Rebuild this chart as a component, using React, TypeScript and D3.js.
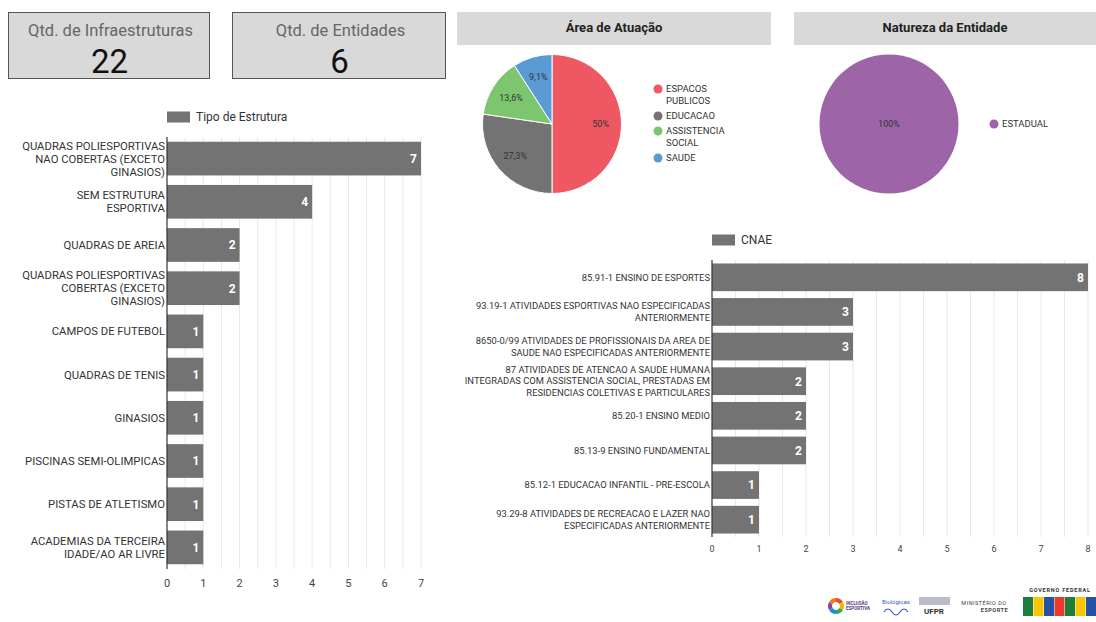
import React, { useEffect, useRef } from 'react';
import * as d3 from 'd3';

// KPI cards
const kpiTitles = ['Qtd. de Infraestruturas', 'Qtd. de Entidades'];
const kpiValues = [22, 6];

// Tipo de Estrutura
const tipoLabels = [
  'QUADRAS POLIESPORTIVAS\nNAO COBERTAS (EXCETO\nGINASIOS)',
  'SEM ESTRUTURA\nESPORTIVA',
  'QUADRAS DE AREIA',
  'QUADRAS POLIESPORTIVAS\nCOBERTAS (EXCETO\nGINASIOS)',
  'CAMPOS DE FUTEBOL',
  'QUADRAS DE TENIS',
  'GINASIOS',
  'PISCINAS SEMI-OLIMPICAS',
  'PISTAS DE ATLETISMO',
  'ACADEMIAS DA TERCEIRA\nIDADE/AO AR LIVRE',
];
const tipoValues = [7, 4, 2, 2, 1, 1, 1, 1, 1, 1];
const tipoTicks = [0, 1, 2, 3, 4, 5, 6, 7];

// Área de Atuação
const areaLabels = ['ESPACOS PUBLICOS', 'EDUCACAO', 'ASSISTENCIA SOCIAL', 'SAUDE'];
const areaValues = [11, 6, 3, 2];
const areaColors = ['#ef5763', '#737373', '#7dc56f', '#5b9bd5'];

// Natureza da Entidade
const naturezaLabels = ['ESTADUAL'];
const naturezaValues = [6];
const naturezaColors = ['#9d65a8'];

// CNAE
const cnaeLabels = [
  '85.91-1 ENSINO DE ESPORTES',
  '93.19-1 ATIVIDADES ESPORTIVAS NAO ESPECIFICADAS\nANTERIORMENTE',
  '8650-0/99 ATIVIDADES DE PROFISSIONAIS DA AREA DE\nSAUDE NAO ESPECIFICADAS ANTERIORMENTE',
  '87 ATIVIDADES DE ATENCAO A SAUDE HUMANA\nINTEGRADAS COM ASSISTENCIA SOCIAL, PRESTADAS EM\nRESIDENCIAS COLETIVAS E PARTICULARES',
  '85.20-1 ENSINO MEDIO',
  '85.13-9 ENSINO FUNDAMENTAL',
  '85.12-1 EDUCACAO INFANTIL - PRE-ESCOLA',
  '93.29-8 ATIVIDADES DE RECREACAO E LAZER NAO\nESPECIFICADAS ANTERIORMENTE',
];
const cnaeValues = [8, 3, 3, 2, 2, 2, 1, 1];
const cnaeTicks = [0, 1, 2, 3, 4, 5, 6, 7, 8];

const FONT = "Roboto, 'Noto Sans', sans-serif";
const BAR = '#737373';

type BarOpts = {
  labels: string[];
  values: number[];
  ticks: number[];
  x0: number;
  x1: number;
  y0: number;
  y1: number;
  padInner: number;
  padOuter: number;
  legend: string;
  legendY: number;
  labelSize: number;
  lineH: number;
  tickSize: number;
  tickY: number;
  valueSize: number;
};

function drawBars(svg: d3.Selection<SVGSVGElement, unknown, null, undefined>, o: BarOpts) {
  const data = o.labels.map((l, i) => ({ name: l, value: o.values[i] }));
  const maxV = o.ticks[o.ticks.length - 1];
  const x = d3.scaleLinear().domain([0, maxV]).range([o.x0, o.x1]);
  const y = d3.scaleBand().domain(o.labels).range([o.y0, o.y1])
    .paddingInner(o.padInner).paddingOuter(o.padOuter);
  const g = svg.append('g');

  // legend
  g.append('rect').attr('x', o.x0).attr('y', o.legendY - 5.5).attr('width', 23).attr('height', 11).attr('fill', BAR);
  g.append('text').attr('x', o.x0 + 29).attr('y', o.legendY).attr('dy', '0.35em')
    .style('font-family', FONT).style('font-size', '12px').style('fill', '#333').text(o.legend);

  // grid at half units
  const grid = d3.range(0.5, maxV + 0.01, 0.5);
  g.selectAll('.grid').data(grid).enter().append('line')
    .attr('x1', d => x(d)).attr('x2', d => x(d))
    .attr('y1', o.y0).attr('y2', o.y1)
    .attr('stroke', '#e8e8e8').attr('stroke-width', 1);

  g.selectAll('.bar').data(data).enter().append('rect')
    .attr('x', x(0))
    .attr('y', d => y(d.name)!)
    .attr('width', d => x(d.value) - x(0))
    .attr('height', y.bandwidth())
    .attr('fill', BAR);

  g.selectAll('.val').data(data).enter().append('text')
    .attr('x', d => x(d.value) - 4)
    .attr('y', d => y(d.name)! + y.bandwidth() / 2)
    .attr('dy', '0.36em')
    .attr('text-anchor', 'end')
    .style('font-family', FONT).style('font-size', `${o.valueSize}px`).style('font-weight', 'bold')
    .style('fill', '#fff')
    .text(d => d.value);

  // category labels
  data.forEach(d => {
    const lines = d.name.split('\n');
    const cy = y(d.name)! + y.bandwidth() / 2;
    const t = g.append('text')
      .attr('text-anchor', 'end')
      .style('font-family', FONT).style('font-size', `${o.labelSize}px`).style('fill', '#333');
    lines.forEach((ln, i) => {
      t.append('tspan').attr('x', o.x0 - 2)
        .attr('y', cy + (i - (lines.length - 1) / 2) * o.lineH)
        .attr('dy', '0.35em').text(ln);
    });
  });

  // axis line
  g.append('line').attr('x1', x(0)).attr('x2', x(0)).attr('y1', o.y0).attr('y2', o.y1)
    .attr('stroke', '#333').attr('stroke-width', 1.2);

  g.selectAll('.tick').data(o.ticks).enter().append('text')
    .attr('x', d => x(d)).attr('y', o.tickY).attr('dy', '0.35em')
    .attr('text-anchor', 'middle')
    .style('font-family', FONT).style('font-size', `${o.tickSize}px`).style('fill', '#444')
    .text(d => d);
}

type PieOpts = {
  labels: string[];
  values: number[];
  colors: string[];
  cx: number;
  cy: number;
  r: number;
  legendX: number;
  legendY: number;
  fmt: (p: number) => string;
};

function drawPie(svg: d3.Selection<SVGSVGElement, unknown, null, undefined>, o: PieOpts) {
  const total = d3.sum(o.values);
  const data = o.labels.map((l, i) => ({ name: l, value: o.values[i], color: o.colors[i] }));
  const pie = d3.pie<{ name: string; value: number; color: string }>().sort(null).value(d => d.value);
  const arcs = pie(data);
  const arc = d3.arc<d3.PieArcDatum<{ name: string; value: number; color: string }>>()
    .innerRadius(0).outerRadius(o.r);
  const lab = d3.arc<d3.PieArcDatum<{ name: string; value: number; color: string }>>()
    .innerRadius(o.r * 0.7).outerRadius(o.r * 0.7);
  const g = svg.append('g').attr('transform', `translate(${o.cx},${o.cy})`);
  g.selectAll('path').data(arcs).enter().append('path')
    .attr('d', arc).attr('fill', d => d.data.color)
    .attr('stroke', '#fff').attr('stroke-width', arcs.length > 1 ? 1 : 0);
  g.selectAll('.pl').data(arcs).enter().append('text')
    .attr('transform', d => arcs.length > 1 ? `translate(${lab.centroid(d)})` : 'translate(0,0)')
    .attr('text-anchor', 'middle').attr('dy', '0.35em')
    .style('font-family', FONT).style('font-size', '9px').style('fill', '#333')
    .text(d => o.fmt(d.data.value / total));

  // legend, one word per line
  let yy = o.legendY;
  data.forEach(d => {
    const words = d.name.split(' ');
    svg.append('circle').attr('cx', o.legendX).attr('cy', yy).attr('r', 4.5).attr('fill', d.color);
    const t = svg.append('text').style('font-family', FONT).style('font-size', '9.5px').style('fill', '#333');
    words.forEach((w, i) => {
      t.append('tspan').attr('x', o.legendX + 8).attr('y', yy + i * 12).attr('dy', '0.35em').text(w);
    });
    yy += (words.length - 1) * 12 + 15;
  });
}

const pctFmt = (p: number) => {
  const v = Math.round(p * 1000) / 10;
  return `${String(v).replace('.', ',')}%`;
};

export default function App() {
  const svgRef = useRef<SVGSVGElement>(null);

  useEffect(() => {
    if (!svgRef.current) return;
    const svg = d3.select(svgRef.current);
    svg.selectAll('*').remove();

    svg.append('rect').attr('width', 1096).attr('height', 622).attr('fill', '#fff');

    // KPI cards
    const cards = [{ x: 8, w: 201 }, { x: 232, w: 213 }];
    cards.forEach((c, i) => {
      svg.append('rect').attr('x', c.x + 0.5).attr('y', 12.5).attr('width', c.w).attr('height', 66)
        .attr('fill', '#d9d9d9').attr('stroke', '#555').attr('stroke-width', 1);
      svg.append('text').attr('x', c.x + c.w / 2 + 2).attr('y', 36).attr('text-anchor', 'middle')
        .style('font-family', FONT).style('font-size', '16.5px').style('fill', '#666').text(kpiTitles[i]);
      svg.append('text').attr('x', c.x + c.w / 2 + 1).attr('y', 73).attr('text-anchor', 'middle')
        .style('font-family', FONT).style('font-size', '33px').style('fill', '#111').text(kpiValues[i]);
    });

    // Pie title bars
    const titles = [
      { x: 457, w: 314, t: 'Área de Atuação' },
      { x: 794, w: 302, t: 'Natureza da Entidade' },
    ];
    titles.forEach(tb => {
      svg.append('rect').attr('x', tb.x).attr('y', 12).attr('width', tb.w).attr('height', 33).attr('fill', '#d9d9d9');
      svg.append('text').attr('x', tb.x + tb.w / 2).attr('y', 27).attr('dy', '0.35em').attr('text-anchor', 'middle')
        .style('font-family', FONT).style('font-size', '13px').style('font-weight', 'bold').style('fill', '#222')
        .text(tb.t);
    });

    drawBars(svg as any, {
      labels: tipoLabels, values: tipoValues, ticks: tipoTicks,
      x0: 167, x1: 421, y0: 137, y1: 569, padInner: 0.22, padOuter: 0.11,
      legend: 'Tipo de Estrutura', legendY: 117, labelSize: 11.3, lineH: 13,
      tickSize: 11, tickY: 583, valueSize: 12,
    });

    drawBars(svg as any, {
      labels: cnaeLabels, values: cnaeValues, ticks: cnaeTicks,
      x0: 712, x1: 1088, y0: 260, y1: 537, padInner: 0.2, padOuter: 0.1,
      legend: 'CNAE', legendY: 240, labelSize: 9.4, lineH: 11.5,
      tickSize: 9, tickY: 549, valueSize: 12,
    });

    drawPie(svg as any, {
      labels: areaLabels, values: areaValues, colors: areaColors,
      cx: 552, cy: 124, r: 69.5, legendX: 658, legendY: 89, fmt: pctFmt,
    });
    drawPie(svg as any, {
      labels: naturezaLabels, values: naturezaValues, colors: naturezaColors,
      cx: 889, cy: 124, r: 69.5, legendX: 994, legendY: 124, fmt: pctFmt,
    });

    // footer logos (approximate)
    const lg = svg.append('g');
    const ringColors = ['#e94b3c', '#f4b400', '#2fa84f', '#1e88e5', '#8e44ad', '#f57c00'];
    const ring = d3.arc<any>().innerRadius(4).outerRadius(8);
    const ringPie = d3.pie<number>().sort(null)(ringColors.map(() => 1));
    lg.append('g').attr('transform', 'translate(836,606)').selectAll('path').data(ringPie).enter()
      .append('path').attr('d', ring).attr('fill', (d, i) => ringColors[i]);
    lg.append('text').attr('x', 846).attr('y', 605).style('font-family', FONT).style('font-size', '4.5px')
      .style('font-weight', 'bold').style('fill', '#5a3b8c').text('INCLUSÃO');
    lg.append('text').attr('x', 846).attr('y', 610).style('font-family', FONT).style('font-size', '4.5px')
      .style('font-weight', 'bold').style('fill', '#5a3b8c').text('ESPORTIVA');
    lg.append('text').attr('x', 882).attr('y', 604).style('font-family', FONT).style('font-size', '6px')
      .style('fill', '#3b5bbf').text('Biológicas');
    lg.append('path').attr('d', 'M884,612 q4,-6 8,0 t8,0 t8,0').attr('fill', 'none').attr('stroke', '#3b5bbf').attr('stroke-width', 1.2);
    lg.append('rect').attr('x', 919).attr('y', 597).attr('width', 31).attr('height', 8).attr('fill', '#b8bcc6');
    lg.append('text').attr('x', 934).attr('y', 614).attr('text-anchor', 'middle').style('font-family', FONT)
      .style('font-size', '8px').style('font-weight', 'bold').style('fill', '#333').text('UFPR');
    lg.append('text').attr('x', 984).attr('y', 605).attr('text-anchor', 'middle').style('font-family', FONT)
      .style('font-size', '5.5px').style('fill', '#444').style('letter-spacing', '0.5px').text('MINISTÉRIO DO');
    lg.append('text').attr('x', 1008).attr('y', 612).attr('text-anchor', 'end').style('font-family', FONT)
      .style('font-size', '5.5px').style('font-weight', 'bold').style('fill', '#444').style('letter-spacing', '0.5px').text('ESPORTE');
    lg.append('text').attr('x', 1060).attr('y', 592).attr('text-anchor', 'middle').style('font-family', FONT)
      .style('font-size', '5.5px').style('font-weight', 'bold').style('fill', '#333').style('letter-spacing', '0.8px').text('GOVERNO FEDERAL');
    const blocks = ['#1e7d3a', '#f7c600', '#2453a6', '#e8392b', '#1e7d3a', '#f7c600', '#2453a6'];
    blocks.forEach((c, i) => {
      lg.append('rect').attr('x', 1023 + i * 10.5).attr('y', 597).attr('width', 10).attr('height', 19).attr('fill', c);
    });
  }, []);

  return (
    <svg
      ref={svgRef}
      width={1096}
      height={622}
      viewBox="0 0 1096 622"
      style={{ position: 'absolute', left: 0, top: 0, display: 'block' }}
    />
  );
}
